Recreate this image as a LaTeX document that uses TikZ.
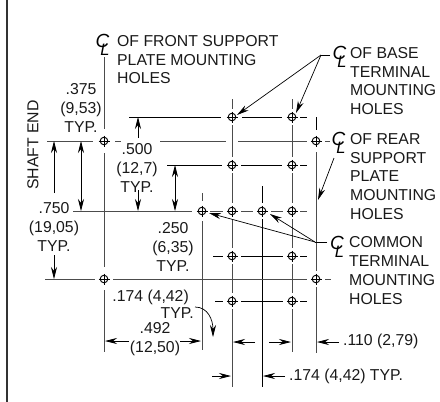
\documentclass[tikz,border=0pt]{standalone}
\usepackage{fontspec}
\setmainfont{Liberation Sans}
\usetikzlibrary{arrows.meta}
\tikzset{
  x=1pt,y=-1pt,
  cl/.style={line width=0.8pt,draw=black!70},
  dim/.style={line width=0.8pt,draw=black},
  tipA/.tip={Stealth[length=12pt,width=6pt]},
  arr/.style={line width=0.7pt,draw=black,-tipA},
  arrb/.style={line width=0.7pt,draw=black,tipA-tipA},
  lbl/.style={font=\fontsize{15.8}{18.8}\selectfont,align=left,inner sep=0pt,text=black!90},
  lblc/.style={lbl,align=center},
  cesym/.style={font=\fontsize{19}{19}\selectfont\itshape,inner sep=0pt},
  el/.style={font=\fontsize{16.5}{16}\selectfont\itshape,inner sep=0pt},
  hole/.style={circle,draw=black,line width=0.9pt,minimum size=7.6pt,inner sep=0pt},
  holex/.style={line width=0.7pt,draw=black},
}
\newcommand{\cesign}[1]{\node[cesym] at (#1) {C};\node[el] at ([xshift=2.5pt,yshift=-9pt]#1) {L};}
\begin{document}
\begin{tikzpicture}
\useasboundingbox (0,0) rectangle (440,402);
\draw[line width=1.9pt,black!80] (7.4,0) -- (7.4,402);
% holes
\foreach \n/\x/\y in {fa/104/141,fb/104/279,ba/232/117,bb/292/117,bc/232/165,bd/292/165,ra/316/141,rb/316/279,
  ca/202/211,cb/232/211,cc/262/211,cd/292/211,be/232/256,bf/292/256,bg/232/301,bh/292/301}{
  \node[hole] (\n) at (\x,\y) {};
  \draw[holex] (\x-5.5,\y) -- (\x+5.5,\y) (\x,\y-5.5) -- (\x,\y+5.5);
}
% vertical centre lines
\draw[cl] (104,57) -- (104,129) (104,153) -- (104,267) (104,290) -- (104,352);
\draw[cl] (202,193) -- (202,201) (202,221) -- (202,350);
\draw[cl] (232,99) -- (232,109) (232,125) -- (232,157) (232,173) -- (232,203) (232,219) -- (232,248) (232,264) -- (232,293) (232,309) -- (232,387);
\draw[cl] (292,99) -- (292,109) (292,125) -- (292,157) (292,173) -- (292,203) (292,219) -- (292,248) (292,264) -- (292,293) (292,309) -- (292,352);
\draw[dim] (316,117) -- (316,130);
\draw[cl] (316,152) -- (316,271) (316,287) -- (316,353);
\draw[dim] (262,186) -- (262,203) (262,219) -- (262,387);
% horizontal centre lines
\draw[cl] (47,141) -- (93,141) (115,141) -- (121,141) (160,141) -- (226,141) (238,141) -- (307,141) (325,141) -- (330,141);
\draw[dim] (129,117) -- (221,117) (242,117) -- (282,117) (300,117) -- (307,117);
\draw[dim] (167,165) -- (222,165) (241,165) -- (282,165) (300,165) -- (307,165);
\draw[cl] (73,211) -- (192,211) (210,211) -- (223,211) (241,211) -- (253,211) (271,211) -- (283,211) (300,211) -- (307,211);
\draw[cl] (45,279) -- (95,279) (113,279) -- (307,279) (325,279) -- (331,279);
\draw[dim] (213,256) -- (223,256) (241,256) -- (283,256) (300,256) -- (307,256);
\draw[dim] (215,301) -- (223,301) (241,301) -- (283,301) (300,301) -- (307,301);
% text
\node[lbl,anchor=north west] (t1) at (117,35) {OF FRONT SUPPORT\\PLATE MOUNTING\\HOLES};
\node[lbl,anchor=north west] (t2) at (350,47) {OF BASE\\TERMINAL\\MOUNTING\\HOLES};
\node[lbl,anchor=north west] (t3) at (350,133) {OF REAR\\SUPPORT\\PLATE\\MOUNTING\\HOLES};
\node[lbl,anchor=north west] (t4) at (349,236.5) {COMMON\\TERMINAL\\MOUNTING\\HOLES};
\coordinate (c1) at (102.5,41); \cesign{c1}
\coordinate (c2) at (339.5,53); \cesign{c2}
\coordinate (c3) at (338.5,139); \cesign{c3}
\coordinate (c4) at (337,243); \cesign{c4}
\node[lblc,anchor=north] (d375) at (81,83.5) {.375\\(9,53)\\TYP.};
\node[lblc,anchor=north] (d500) at (137,143.5) {.500\\(12,7)\\TYP.};
\node[lblc,anchor=north] (d750) at (54,202.5) {.750\\(19,05)\\TYP.};
\node[lblc,anchor=north] (d250) at (173,222.5) {.250\\(6,35)\\TYP.};
\node[lbl,anchor=north east] (d174a) at (189,289.5) {.174 (4,42)};
\node[lbl,anchor=north east] (d174b) at (194,307.5) {TYP.};
\node[lblc,anchor=north] (d492) at (155,322.5) {.492\\(12,50)};
\node[lbl,anchor=west] (d110) at (343,341) {.110 (2,79)};
\node[lbl,anchor=west] (d174c) at (289,376) {.174 (4,42) TYP.};
\node[lbl,rotate=90] (shaft) at (33,145) {SHAFT END};
% dimension arrows
\draw[arr] (54,193) -- (54,141);
\draw[arr] (54,255) -- (54,279);
\draw[arrb] (81,141) -- (81,211);
\draw[arr] (138,138) -- (138,117);
\draw[arr] (138,190) -- (138,211);
\draw[arrb] (175,165) -- (175,211);
\draw[arr] (129,341) -- (105,341);
\draw[arr] (180,341) -- (201,341);
\draw[arr] (255,342) -- (233,342);
\draw[arr] (269,342) -- (291,342);
\draw[arr] (339,342) -- (317,342);
\draw[arr] (212,376) -- (231,376);
\draw[arr] (285,376) -- (263,376);
\draw[arr] (195,307) .. controls (208,307) and (213,320) .. (213,337);
% leaders
\draw[line width=0.7pt] (330,55) -- (321,55);
\draw[arr] (321,55) -- (237,115);
\draw[arr] (321,55) -- (296,113);
\draw[arr] (334,158) -- (318,200);
\draw[line width=0.7pt] (327,242) -- (315,242);
\draw[arr] (315,242) -- (270,214);
\draw[arr] (315,242) -- (209,213);
\end{tikzpicture}
\end{document}
